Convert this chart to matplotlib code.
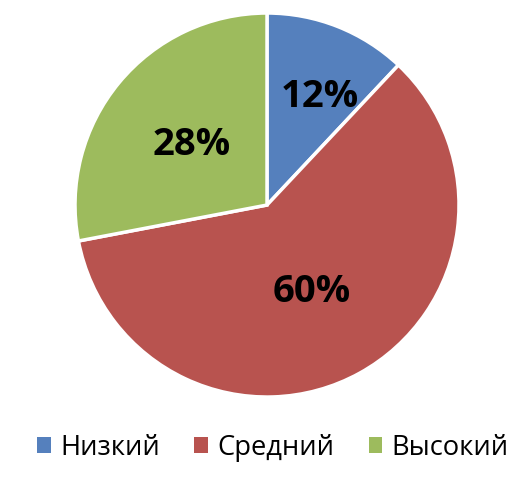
import matplotlib.pyplot as plt
from matplotlib.patches import Patch

labels = ['Низкий', 'Средний', 'Высокий']
values = [12, 60, 28]
colors = ['#5580BD', '#B8534F', '#9DBB5D']
label_pos = [(0.276, 0.56), (0.234, -0.455), (-0.39, 0.315)]

plt.rcParams['font.family'] = ['Open Sans', 'DejaVu Sans']

fig = plt.figure(figsize=(5.32, 4.82), dpi=100)
ax = fig.add_axes([0.141, 0.1763, 0.7218, 0.7967])
wedges, _ = ax.pie(values, colors=colors, startangle=90, counterclock=False,
                   wedgeprops=dict(edgecolor='white', linewidth=2.5))
for (x, y), v in zip(label_pos, values):
    ax.text(x, y, f'{v}%', ha='center', va='center', fontsize=27.5,
            fontweight='bold', color='black')
ax.set_xlim(-1, 1)
ax.set_ylim(-1, 1)
ax.set_aspect('equal')
ax.axis('off')

handles = [Patch(facecolor=c, edgecolor='none') for c in colors]
fig.legend(handles, labels, loc='center', bbox_to_anchor=(0.513, 0.071),
           ncol=3, frameon=False, fontsize=19.7, handlelength=0.5,
           handleheight=0.5, handletextpad=0.35, columnspacing=1.25)

fig.savefig('out.png', dpi=100)
